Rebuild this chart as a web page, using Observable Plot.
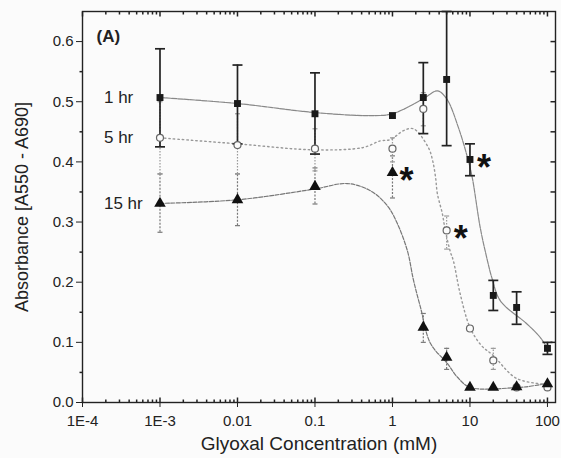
<!DOCTYPE html>
<html><head><meta charset="utf-8">
<script src="https://cdn.jsdelivr.net/npm/d3@7"></script>
<script src="https://cdn.jsdelivr.net/npm/@observablehq/plot@0.6"></script>
<style>
html,body{margin:0;padding:0;background:#fbfbfb;}
#chart{width:561px;height:458px;}
</style></head><body><div id="chart"></div>
<script>
// ---- data ----
const conc = [0.001, 0.01, 0.1, 1, 2.5, 5, 10, 20, 40, 100];

const hr1   = [0.507, 0.497, 0.480, 0.477, 0.507, 0.537, 0.404, 0.178, 0.158, 0.090];
const hr1Lo = [0.425, 0.430, 0.413, null,  0.447, 0.427, 0.377, 0.153, 0.130, 0.080];
const hr1Hi = [0.588, 0.561, 0.548, null,  0.565, 0.650, 0.430, 0.203, 0.184, 0.100];

const hr5   = [0.440, 0.428, 0.422, 0.422, 0.488, 0.286, 0.123, 0.070, 0.025, 0.025];
const hr5Lo = [0.380, 0.380, 0.385, 0.400, 0.460, 0.255, null,  0.055, null,  null];
const hr5Hi = [0.500, 0.480, 0.455, 0.440, 0.515, 0.310, null,  0.090, null,  null];

const hr15   = [0.331, 0.337, 0.359, 0.382, 0.125, 0.075, 0.025, 0.025, 0.026, 0.031];
const hr15Lo = [0.283, 0.294, 0.330, 0.340, 0.100, 0.055, null,  null,  null,  null];
const hr15Hi = [0.380, 0.380, 0.390, 0.410, 0.148, 0.090, null,  null,  null,  null];

// fitted curves
const fit1X = [0.001, 0.01, 0.1, 0.5, 1, 2.5, 3.8, 5, 7.1, 9.3, 10.7, 13.6, 16.8, 19.1, 24.7, 54, 81, 100];
const fit1Y = [0.507, 0.497, 0.482, 0.477, 0.480, 0.505, 0.518, 0.505, 0.457, 0.407, 0.374, 0.290, 0.236, 0.208, 0.169, 0.131, 0.108, 0.090];

const fit5X = [0.001, 0.01, 0.1, 0.42, 0.7, 0.94, 1.39, 1.87, 2.9, 3.3, 3.6, 3.8, 4.4, 4.8, 5.6, 6.1, 7.5, 10, 14, 20, 40, 100];
const fit5Y = [0.440, 0.430, 0.420, 0.424, 0.435, 0.437, 0.452, 0.455, 0.424, 0.402, 0.374, 0.347, 0.314, 0.286, 0.250, 0.236, 0.180, 0.125, 0.095, 0.078, 0.040, 0.030];

const fit15X = [0.001, 0.01, 0.1, 0.26, 0.52, 0.86, 1.16, 1.56, 1.87, 2.3, 3.1, 5.1, 6.9, 10.1, 41, 60, 100];
const fit15Y = [0.331, 0.337, 0.355, 0.364, 0.352, 0.327, 0.297, 0.252, 0.203, 0.158, 0.098, 0.065, 0.042, 0.025, 0.025, 0.027, 0.032];

const seriesNames = ["1 hr", "5 hr", "15 hr"];
const starConc = [10, 5, 1];          // significant points
const starSeries = ["1 hr", "5 hr", "15 hr"];

const xTitle = "Glyoxal Concentration (mM)";
const yTitle = "Absorbance [A550 - A690]";
const panelLabel = "(A)";

const xTicks = [1e-4, 1e-3, 0.01, 0.1, 1, 10, 100];
const xTickLabels = ["1E-4", "1E-3", "0.01", "0.1", "1", "10", "100"];
const yTicks = [0, 0.1, 0.2, 0.3, 0.4, 0.5, 0.6];
const yTickLabels = ["0.0", "0.1", "0.2", "0.3", "0.4", "0.5", "0.6"];
const yMinor = [0.05, 0.15, 0.25, 0.35, 0.45, 0.55];
const xMinor = [];
for (const d of [1e-4, 1e-3, 0.01, 0.1, 1, 10]) for (let m = 2; m <= 9; m++) xMinor.push(+(d * m).toPrecision(3));

// ---- build tables ----
const rows = (ys, lo, hi) => conc.map((x, i) => ({x, y: ys[i], lo: lo[i], hi: hi[i]}));
const d1 = rows(hr1, hr1Lo, hr1Hi), d5 = rows(hr5, hr5Lo, hr5Hi), d15 = rows(hr15, hr15Lo, hr15Hi);
const bySeries = {"1 hr": d1, "5 hr": d5, "15 hr": d15};
const fits = (X, Y) => X.map((x, i) => ({x, y: Y[i]}));
const stars = starConc.map((c, i) => bySeries[starSeries[i]].find(d => d.x === c));
const labels = seriesNames.map(s => ({s, x: bySeries[s][0].x, y: bySeries[s][0].y}));

// custom tick / cap symbols
const hCap = {draw(ctx, size) { const w = Math.sqrt(size / Math.PI); ctx.moveTo(-w, 0); ctx.lineTo(w, 0); }};
const tickLeft = {draw(ctx, size) { const w = Math.sqrt(size / Math.PI); ctx.moveTo(0, 0); ctx.lineTo(-w, 0); }};
const tickDown = {draw(ctx, size) { const w = Math.sqrt(size / Math.PI); ctx.moveTo(0, 0); ctx.lineTo(0, w); }};
const tickUp = {draw(ctx, size) { const w = Math.sqrt(size / Math.PI); ctx.moveTo(0, 0); ctx.lineTo(0, -w); }};

const errMarks = (data, stroke, width, dash, capR) => {
  const e = data.filter(d => d.lo != null);
  return [
    Plot.ruleX(e, {x: "x", y1: "lo", y2: "hi", stroke, strokeWidth: width, strokeDasharray: dash}),
    Plot.dot(e, {x: "x", y: "hi", symbol: hCap, r: capR, stroke, strokeWidth: width}),
    Plot.dot(e, {x: "x", y: "lo", symbol: hCap, r: capR, stroke, strokeWidth: width})
  ];
};

const font = "'Liberation Sans', Arial, sans-serif";

const chart = Plot.plot({
  width: 561, height: 458,
  marginLeft: 82, marginRight: 6, marginTop: 11, marginBottom: 56,
  style: {fontFamily: font, background: "#fbfbfb", color: "#222"},
  x: {type: "log", domain: [1e-4, 127]},
  y: {domain: [0, 0.65]},
  marks: [
    // axes
    Plot.axisX({ticks: xTicks, tickFormat: d => xTickLabels[xTicks.indexOf(d)], tickSize: 5, tickPadding: 8, fontSize: 15, label: null}),
    Plot.axisY({ticks: yTicks, tickFormat: d => yTickLabels[yTicks.indexOf(d)], tickSize: 6, tickPadding: 3, fontSize: 15, label: null}),
    Plot.text([xTitle], {frameAnchor: "bottom", lineAnchor: "middle", textAnchor: "middle", dy: 41, fontSize: 19, fill: "#222"}),
    Plot.text([yTitle], {frameAnchor: "left", rotate: -90, textAnchor: "middle", lineAnchor: "middle", dx: -60, fontSize: 18, fill: "#222"}),
    // minor / inner ticks
    Plot.dot(yMinor, {y: d => d, frameAnchor: "left", symbol: tickLeft, r: 3, stroke: "#222"}),
    Plot.dot(yMinor.concat(yTicks.slice(1)), {y: d => d, frameAnchor: "right", symbol: tickLeft, r: 5, stroke: "#222"}),
    Plot.dot(xMinor, {x: d => d, frameAnchor: "bottom", symbol: tickUp, r: 3, stroke: "#222"}),
    Plot.dot(xTicks, {x: d => d, frameAnchor: "bottom", symbol: tickUp, r: 5, stroke: "#222"}),
    Plot.dot(xMinor, {x: d => d, frameAnchor: "top", symbol: tickDown, r: 3, stroke: "#222"}),
    Plot.dot(xTicks, {x: d => d, frameAnchor: "top", symbol: tickDown, r: 5, stroke: "#222"}),
    Plot.frame({stroke: "#222", strokeWidth: 1.4}),
    // fitted curves
    Plot.line(fits(fit15X, fit15Y), {x: "x", y: "y", curve: "catmull-rom", stroke: "#777", strokeWidth: 1.2, strokeDasharray: "4,1.5"}),
    Plot.line(fits(fit5X, fit5Y), {x: "x", y: "y", curve: "catmull-rom", stroke: "#999", strokeWidth: 1.4, strokeDasharray: "1.5,3"}),
    Plot.line(fits(fit1X, fit1Y), {x: "x", y: "y", curve: "catmull-rom", stroke: "#888", strokeWidth: 1.2, strokeDasharray: "5,1"}),
    // error bars
    ...errMarks(d15, "#777", 1.2, "2,1.5", 2.5),
    ...errMarks(d5, "#999", 1.2, "1.5,1.5", 2.5),
    ...errMarks(d1, "#222", 1.7, null, 5),
    // points
    Plot.dot(d5, {x: "x", y: "y", symbol: "circle", r: 3.5, stroke: "#666", fill: "#fbfbfb", strokeWidth: 1.2}),
    Plot.dot(d15, {x: "x", y: "y", symbol: "triangle", r: 4.3, fill: "#111", stroke: "none"}),
    Plot.dot(d1, {x: "x", y: "y", symbol: "square", r: 3.9, fill: "#1a1a1a", stroke: "none"}),
    // annotations
    Plot.text(stars, {x: "x", y: "y", text: () => "*", dx: 14, dy: 9, fontSize: 36, fontWeight: "bold", fill: "#111"}),
    Plot.text(labels, {x: "x", y: "y", text: "s", textAnchor: "start", dx: -56, fontSize: 17, fill: "#222"}),
    Plot.text([panelLabel], {frameAnchor: "top-left", dx: 14, dy: 18, fontSize: 17, fontWeight: "bold", fill: "#222"})
  ]
});
document.getElementById("chart").appendChild(chart);
</script>
</body></html>
